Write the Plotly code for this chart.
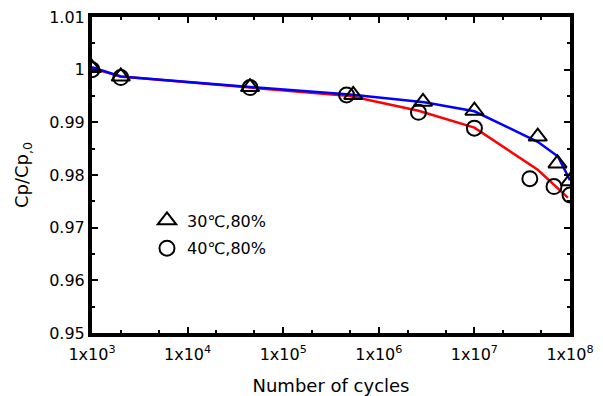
import plotly.graph_objects as go

# Measured points
cycles_30 = [1e3, 2e3, 4.5e4, 5.4e5, 2.9e6, 1.0e7, 4.6e7, 7.4e7, 1.0e8]
cp_30 = [1.0003, 0.9987, 0.9967, 0.9952, 0.9939, 0.9922, 0.9873, 0.9822, 0.9788]

cycles_40 = [1e3, 2e3, 4.5e4, 4.6e5, 2.6e6, 1.0e7, 3.8e7, 6.8e7, 1.0e8]
cp_40 = [1.0000, 0.9985, 0.9966, 0.9952, 0.9919, 0.9889, 0.9793, 0.9778, 0.9762]

# Fitted curves
fit_x_30 = [1e3, 2e3, 4.5e4, 5e5, 3e6, 1e7, 4.6e7, 7.5e7, 1e8]
fit_y_30 = [1.00045, 0.9987, 0.9967, 0.9953, 0.9938, 0.9921, 0.9863, 0.9835, 0.9790]

fit_x_40 = [1e3, 2e3, 4.5e4, 5e5, 2.6e6, 1e7, 4.6e7, 9.5e7]
fit_y_40 = [1.0003, 0.9987, 0.9966, 0.9950, 0.9922, 0.9890, 0.9810, 0.9757]

x_tickvals = [1e3, 1e4, 1e5, 1e6, 1e7, 1e8]
x_ticktext = ["1x10<sup>3</sup>", "1x10<sup>4</sup>", "1x10<sup>5</sup>",
              "1x10<sup>6</sup>", "1x10<sup>7</sup>", "1x10<sup>8</sup>"]
y_tickvals = [0.95, 0.96, 0.97, 0.98, 0.99, 1.00, 1.01]
y_ticktext = ["0.95", "0.96", "0.97", "0.98", "0.99", "1", "1.01"]

FONT = "DejaVu Sans"

fig = go.Figure()
fig.add_trace(go.Scatter(x=fit_x_40, y=fit_y_40, mode="lines",
                         line=dict(color="#ff0000", width=2.5), showlegend=False))
fig.add_trace(go.Scatter(x=fit_x_30, y=fit_y_30, mode="lines",
                         line=dict(color="#0000ff", width=2.5), showlegend=False))
fig.add_trace(go.Scatter(x=cycles_30, y=cp_30, mode="markers", name="30℃,80%",
                         legendgroup="a",
                         marker=dict(symbol="triangle-up-open", size=16, color="black",
                                     line=dict(width=2, color="black"))))
fig.add_trace(go.Scatter(x=cycles_40, y=cp_40, mode="markers", name="40℃,80%",
                         legendgroup="b",
                         marker=dict(symbol="circle-open", size=15, color="black",
                                     line=dict(width=2, color="black"))))

fig.update_layout(
    width=603, height=396,
    margin=dict(l=84, r=41, t=9, b=71, autoexpand=False),
    paper_bgcolor="white", plot_bgcolor="white",
    font=dict(family=FONT, size=16, color="black"),
    legend=dict(x=0.115, y=0.41, xanchor="left", yanchor="top",
                bgcolor="rgba(0,0,0,0)", font=dict(size=16),
                traceorder="grouped", tracegroupgap=4),
    showlegend=True,
)
fig.update_xaxes(
    type="log", range=[3, 8], automargin=False,
    tickvals=x_tickvals, ticktext=x_ticktext,
    ticks="inside", ticklen=6, tickwidth=2, tickcolor="black",
    ticklabelstandoff=4, ticklabeloverflow="allow",
    showline=True, linewidth=4, linecolor="black", mirror="ticks",
    showgrid=False, zeroline=False,
    minor=dict(ticks="inside", ticklen=3, tickwidth=2, tickcolor="black", showgrid=False),
    title=dict(text="Number of cycles", standoff=17, font=dict(size=18)),
    tickfont=dict(size=16),
)
fig.update_yaxes(
    range=[0.95, 1.01], automargin=False,
    tickvals=y_tickvals, ticktext=y_ticktext,
    ticks="inside", ticklen=6, tickwidth=2, tickcolor="black",
    ticklabeloverflow="allow",
    showline=True, linewidth=4, linecolor="black", mirror="ticks",
    showgrid=False, zeroline=False,
    minor=dict(ticks="inside", ticklen=3, tickwidth=2, tickcolor="black",
               dtick=0.005, tick0=0.95, showgrid=False),
    title=dict(text="Cp/Cp<sub>,0</sub>", standoff=17, font=dict(size=18)),
    tickfont=dict(size=16),
)

fig.write_html("out.html")
